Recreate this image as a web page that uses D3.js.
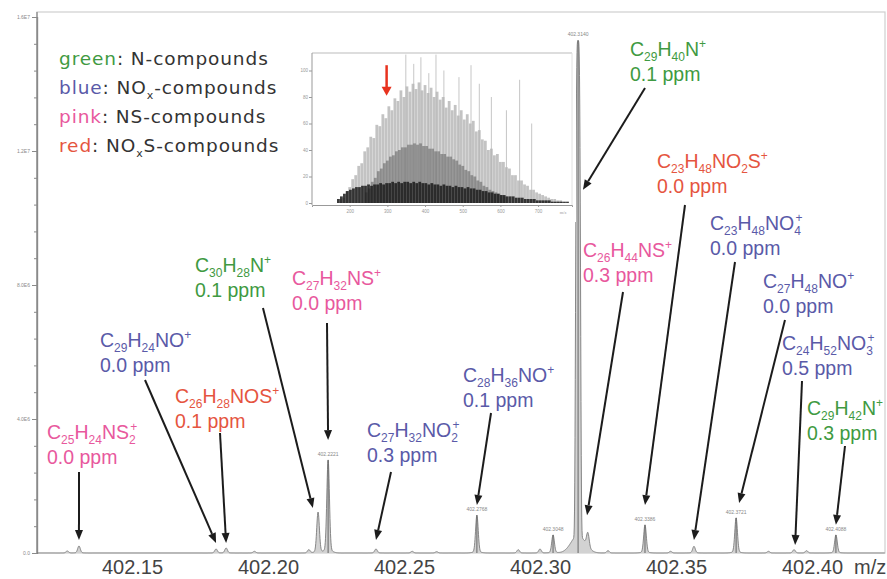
<!DOCTYPE html>
<html><head><meta charset="utf-8">
<script src="https://cdn.jsdelivr.net/npm/d3@7"></script>
<style>body{margin:0;background:#fff}svg{display:block}</style>
</head><body>
<svg id="c" width="887" height="579"></svg>
<script>
// ---------------- DATA ----------------
const peakMz  = [402.1262,402.1305,402.1809,402.1846,402.1950,402.2150,402.2184,402.2221,402.2397,402.2530,402.2620,402.2768,402.2920,402.3000,402.3048,402.3140,402.3176,402.3250,402.3386,402.3480,402.3566,402.3721,402.3840,402.3934,402.3980,402.4088];
const peakInt = [0.06,0.21,0.12,0.15,0.05,0.10,1.22,2.78,0.12,0.05,0.04,1.13,0.10,0.12,0.54,15.3,0.42,0.07,0.84,0.05,0.20,1.05,0.05,0.10,0.07,0.54];
const peakTag = ["","","","","","","","402.2221","","","","402.2768","","","402.3048","402.3140","","","402.3386","","","402.3721","","","","402.4088"];

const xTicks = [402.15,402.20,402.25,402.30,402.35,402.40];
const xTickLabels = ["402.15","402.20","402.25","402.30","402.35","402.40"];
const yTicks = [0,4,8,12,16];
const yTickLabels = ["0.0","4.0E6","8.0E6","1.2E7","1.6E7"];

const legendKeys  = ["green","blue","pink","red"];
const legendTexts = ["N-compounds","NO_{x}-compounds","NS-compounds","NO_{x}S-compounds"];

const annFormula = ["C_{25}H_{24}NS_{2}^{+}","C_{29}H_{24}NO^{+}","C_{26}H_{28}NOS^{+}","C_{30}H_{28}N^{+}","C_{27}H_{32}NS^{+}","C_{27}H_{32}NO_{2}^{+}","C_{28}H_{36}NO^{+}","C_{29}H_{40}N^{+}","C_{23}H_{48}NO_{2}S^{+}","C_{26}H_{44}NS^{+}","C_{23}H_{48}NO_{4}^{+}","C_{27}H_{48}NO^{+}","C_{24}H_{52}NO_{3}^{+}","C_{29}H_{42}N^{+}"];
const annPpm   = ["0.0 ppm","0.0 ppm","0.1 ppm","0.1 ppm","0.0 ppm","0.3 ppm","0.1 ppm","0.1 ppm","0.0 ppm","0.3 ppm","0.0 ppm","0.0 ppm","0.5 ppm","0.3 ppm"];
const annClass = ["pink","blue","red","green","pink","blue","blue","green","red","pink","blue","blue","blue","green"];
const annTipMz  = [402.1305,402.1809,402.1846,402.2165,402.2221,402.2397,402.2768,402.3158,402.3386,402.3173,402.3566,402.3732,402.3938,402.4088];
const annTipInt = [0.39,0.30,0.30,1.34,3.37,0.39,1.43,10.84,1.43,1.13,0.39,1.49,0.24,0.84];

// inset spectrum
const insetLightMz = [176,184,192,200,208,216,224,232,240,248,256,264,272,280,288,296,304,312,320,328,336,344,352,360,368,376,384,392,400,408,416,424,432,440,448,456,464,472,480,488,496,504,512,520,528,536,544,552,560,568,576,584,592,600,608,616,624,632,640,648,656,664,672,680,688,696,704,712,720,728,736,744,752,760];
const insetLightInt = [3,4,9,12,18,21,28,30,39,42,50,49,59,58,67,64,73,70,79,77,85,80,88,84,90,86,91,85,89,83,87,80,84,78,80,72,77,70,74,66,70,63,67,60,62,54,55,48,47,40,41,36,37,31,31,27,26,21,21,17,17,14,13,10,10,8,7,6,5,4,3,3,2,2];
const insetMidMz = [244,252,260,268,276,284,292,300,308,316,324,332,340,348,356,364,372,380,388,396,404,412,420,428,436,444,452,460,468,476,484,492,500,508,516,524,532,540,548,556,564,572,580,588,596,604,612];
const insetMidInt = [8,11,16,19,24,26,30,32,35,36,39,40,42,42,44,44,45,44,45,43,43,41,41,39,39,37,37,35,35,33,32,29,28,25,24,21,20,17,16,13,12,10,9,8,7,6,5];
const insetDarkMz = [170,178,186,194,202,210,218,226,234,242,250,258,266,274,282,290,298,306,314,322,330,338,346,354,362,370,378,386,394,402,410,418,426,434,442,450,458,466,474,482,490,498,506,514,522,530,538,546,554,562,570,578,586,594,602,610,618,626,634,642,650,658,666,674,682,690,698,706,714,722,730,738,746,754,762,770,778];
const insetDarkInt = [3,5,7,9,10,11,12,12,13,13,14,13,14,14,15,14,15,15,16,15,16,15,16,16,15,16,15,16,15,15,14,15,14,14,13,14,13,13,12,13,12,12,11,12,11,11,10,10,9,9,8,8,7,7,6,6,5,5,5,4,4,4,3,3,3,3,2,2,2,2,2,1,1,1,1,1,1];
const insetTallMz  = [349,370,389,410,429,450,490,522,544,576,616,651,683];
const insetTallInt = [112,105,110,98,112,100,95,104,90,80,70,93,60];
const insetXTicks = [200,300,400,500,600,700];
const insetYTicks = [0,20,40,60,80,100];
const insetArrowMz = 298, insetArrowFrom = 104, insetArrowTo = 81;

// ---------------- LAYOUT / STYLE ----------------
const W = 887, H = 579;
const plot = {l:37, r:885, t:12, b:553};
const colors = {green:"#3f9a42", blue:"#5a5aa8", pink:"#e8589d", red:"#e5553f"};
const annPos   = [[47,439],[100,347],[175,403],[195,272],[292,285],[367,437],[463,382],[630,56],[657,168],[583,257],[710,230],[763,288],[782,350],[807,415]];
const annStart = [[79,472],[145,380],[220,433],[263,308],[327,323],[391,472],[491,413],[645,88],[685,205],[623,292],[735,262],[785,320],[802,381],[845,446]];
const inset = {l:312, r:572, t:53, b:203};

const svg = d3.select("#c");
svg.append("rect").attr("width",W).attr("height",H).attr("fill","#fff");

const x = d3.scaleLinear().domain([402.11507,402.42684]).range([plot.l,plot.r]);
const y = d3.scaleLinear().domain([0,16]).range([plot.b,17]);

// frame
svg.append("rect").attr("x",plot.l).attr("y",plot.t).attr("width",plot.r-plot.l).attr("height",plot.b-plot.t)
  .attr("fill","none").attr("stroke","#cfcfcf").attr("stroke-width",1.2);

// y axis
const gy = svg.append("g").attr("transform",`translate(${plot.l},0)`);
gy.call(d3.axisLeft(y).tickValues(d3.range(0,16.01,0.8)).tickSize(3).tickFormat(""));
gy.append("g").call(d3.axisLeft(y).tickValues(yTicks).tickSize(5).tickPadding(2).tickFormat((d,i)=>yTickLabels[i]));
gy.selectAll("path.domain").attr("stroke","#8a8a8a").attr("stroke-width",1.2);
gy.selectAll("line").attr("stroke","#8a8a8a");
gy.selectAll("text").attr("font-size",5).attr("fill","#8a8a8a").attr("font-family","Liberation Sans, Arial");
svg.append("line").attr("x1",plot.l).attr("x2",plot.l).attr("y1",plot.t).attr("y2",plot.b).attr("stroke","#8a8a8a").attr("stroke-width",1.3);

// x axis labels
const gx = svg.append("g").attr("transform",`translate(0,${plot.b})`)
  .call(d3.axisBottom(x).tickValues(xTicks).tickSize(0).tickPadding(7).tickFormat((d,i)=>xTickLabels[i]));
gx.select("path.domain").remove();
gx.selectAll("text").attr("font-size",20).attr("fill","#444").attr("font-family","Liberation Sans, Arial");
svg.append("text").attr("x",854).attr("y",574).attr("font-size",20).attr("fill","#444")
  .attr("font-family","Liberation Sans, Arial").text("m/z");

// spectrum profile
const footA = 0.035;
const peaksPx = peakMz.map((m,i)=>({px:x(m), h:peakInt[i], s: peakInt[i]>10?2.3:1.3, p: peakInt[i]>10?4:2}));
const samples = d3.range(plot.l, plot.r, 0.25).map(px=>{
  let v = 0;
  peaksPx.forEach(p=>{ const d=Math.abs(px-p.px);
    v += (1-footA)*p.h*Math.exp(-0.5*Math.pow(d/p.s,p.p)) + footA*p.h*Math.exp(-0.5*Math.pow(d/(p.s*3),2)); });
  return [px, v];
});
svg.append("path").datum(samples)
  .attr("d", d3.area().x(d=>d[0]).y0(y(0)).y1(d=>y(d[1])))
  .attr("fill","#d2d2d2");
svg.append("path").datum(samples)
  .attr("d", d3.line().x(d=>d[0]).y(d=>y(d[1])))
  .attr("fill","none").attr("stroke","#7a7a7a").attr("stroke-width",0.9);
// centroid sticks and tiny peak labels
peakMz.forEach((m,i)=>{
  if(!peakTag[i]) return;
  svg.append("line").attr("x1",x(m)).attr("x2",x(m)).attr("y1",y(0)).attr("y2",y(peakInt[i]))
    .attr("stroke","#666").attr("stroke-width",1);
  svg.append("text").attr("x",x(m)).attr("y",y(peakInt[i])-4).attr("text-anchor","middle")
    .attr("font-size",5).attr("fill","#888").attr("font-family","Liberation Sans, Arial").text(peakTag[i]);
});

// ---------------- rich text helper ----------------
function tokens(str){
  const re = /_\{([^}]*)\}|\^\{([^}]*)\}|([^_^]+)/g; const out=[]; let m;
  while((m=re.exec(str))){ if(m[1]!==undefined) out.push({t:"sub",s:m[1]}); else if(m[2]!==undefined) out.push({t:"sup",s:m[2]}); else out.push({t:"n",s:m[3]}); }
  return out;
}
function rich(textSel, str, fs, sfs){
  const subDy = fs*0.26, supDy = fs*0.42;
  let state = "n", prev = null;
  tokens(str).forEach(tok=>{
    const ts = textSel.append("tspan").text(tok.s);
    if(tok.t==="n"){
      ts.attr("font-size",fs);
      if(state==="sub") ts.attr("dy",-subDy); else if(state==="sup") ts.attr("dy",supDy);
    } else if(tok.t==="sub"){
      ts.attr("font-size",sfs);
      ts.attr("dy", state==="sup" ? supDy+subDy : subDy);
    } else {
      ts.attr("font-size",sfs);
      if(state==="sub"){ ts.attr("dy",-(subDy+supDy)); ts.attr("dx", -prev.node().getComputedTextLength()*0.8); }
      else ts.attr("dy",-supDy);
    }
    state = tok.t; prev = ts;
  });
}

// ---------------- legend ----------------
legendKeys.forEach((k,i)=>{
  const t = svg.append("text").attr("x",59).attr("y",65+i*29)
    .attr("font-family","DejaVu Sans, sans-serif").attr("font-size",18.5).attr("letter-spacing",0.9).attr("fill","#333");
  t.append("tspan").attr("fill",colors[k]).text(k);
  t.append("tspan").text(": ");
  rich(t, legendTexts[i], 18.5, 11);
});

// ---------------- inset ----------------
const ix = d3.scaleLinear().domain([100,790]).range([inset.l,inset.r]);
const iy = d3.scaleLinear().domain([0,100]).range([inset.b,70.5]);
svg.append("rect").attr("x",304).attr("y",46).attr("width",272).attr("height",176).attr("fill","#fff");
const gi = svg.append("g");
function sticks(mz, it, color, op, w){
  gi.selectAll(null).data(mz).enter().append("line")
    .attr("x1",d=>ix(d)).attr("x2",d=>ix(d)).attr("y1",iy(0)).attr("y2",(d,i)=>iy(it[i]))
    .attr("stroke",color).attr("stroke-opacity",op).attr("stroke-width",w);
}
sticks(insetTallMz, insetTallInt, "#aaaaaa", 0.75, 0.9);
sticks(insetLightMz, insetLightInt, "#b4b4b4", 0.8, 2.8);
sticks(insetMidMz, insetMidInt, "#666", 0.6, 2.8);
sticks(insetDarkMz, insetDarkInt, "#1a1a1a", 0.85, 2.8);
gi.append("line").attr("x1",inset.l).attr("x2",inset.r).attr("y1",inset.t).attr("y2",inset.t).attr("stroke","#bbb");
gi.append("line").attr("x1",inset.r).attr("x2",inset.r).attr("y1",inset.t).attr("y2",inset.b+2).attr("stroke","#e2e2e2");
const giy = gi.append("g").attr("transform",`translate(${inset.l},0)`)
  .call(d3.axisLeft(iy).tickValues(insetYTicks).tickSize(3).tickPadding(1));
giy.select("path.domain").attr("d",`M0,${inset.t}V${inset.b+2}`);
const gix = gi.append("g").attr("transform",`translate(0,${inset.b+2})`)
  .call(d3.axisBottom(ix).tickValues(insetXTicks).tickSize(2).tickPadding(3));
[giy,gix].forEach(g=>{
  g.selectAll("path.domain").attr("stroke","#999");
  g.selectAll("line").attr("stroke","#999");
  g.selectAll("text").attr("font-size",4.5).attr("fill","#999").attr("font-family","Liberation Sans, Arial");
});
gi.append("text").attr("x",563).attr("y",214).attr("font-size",4.5).attr("fill","#999").attr("text-anchor","middle").text("m/z");
// red arrow in inset
(function(){
  const ax = ix(insetArrowMz), y0 = iy(insetArrowFrom), y1 = iy(insetArrowTo);
  gi.append("line").attr("x1",ax).attr("x2",ax).attr("y1",y0).attr("y2",y1-8).attr("stroke","#e8321e").attr("stroke-width",2.5);
  gi.append("path").attr("d",`M${ax-5},${y1-9}L${ax+5},${y1-9}L${ax},${y1}Z`).attr("fill","#e8321e");
})();

// ---------------- annotations ----------------
annFormula.forEach((f,i)=>{
  const c = colors[annClass[i]];
  const [lx,ly] = annPos[i];
  const t = svg.append("text").attr("x",lx).attr("y",ly).attr("fill",c)
    .attr("font-family","Liberation Sans, Arial, sans-serif");
  rich(t, f, 19.5, 12);
  svg.append("text").attr("x",lx).attr("y",ly+25).attr("fill",c).attr("font-size",19.5)
    .attr("font-family","Liberation Sans, Arial, sans-serif").text(annPpm[i]);
  // arrow
  const [sx,sy] = annStart[i];
  const tx = x(annTipMz[i]), ty = y(annTipInt[i]);
  const dx = tx-sx, dy = ty-sy, L = Math.hypot(dx,dy), ux = dx/L, uy = dy/L;
  const hl = 10, hw = 4;
  const bx = tx-ux*hl, by = ty-uy*hl;
  svg.append("line").attr("x1",sx).attr("y1",sy).attr("x2",bx).attr("y2",by)
    .attr("stroke","#1c1c1c").attr("stroke-width",2);
  svg.append("path").attr("d",`M${tx},${ty}L${bx-uy*hw},${by+ux*hw}L${bx+uy*hw},${by-ux*hw}Z`).attr("fill","#1c1c1c");
});
</script>
</body></html>
